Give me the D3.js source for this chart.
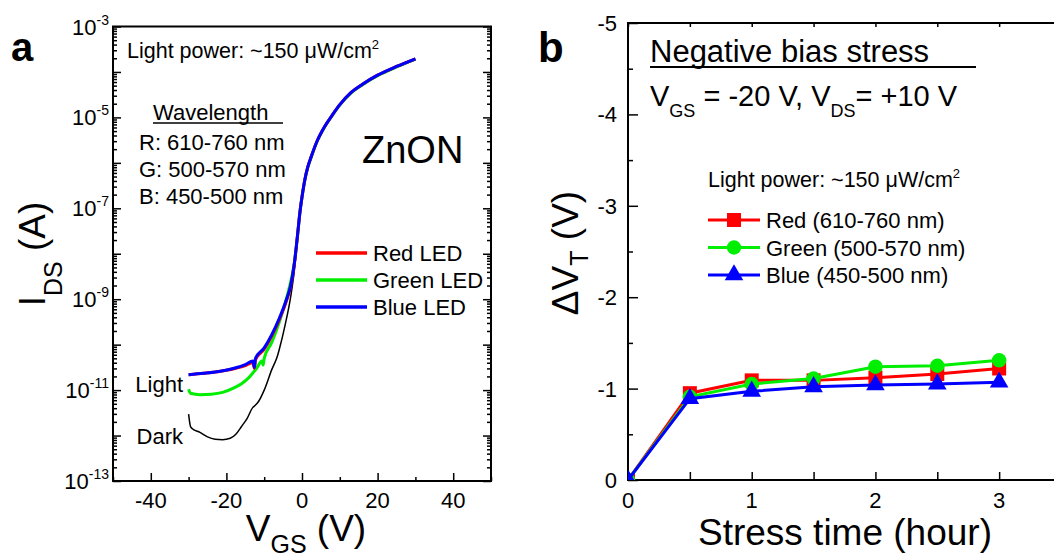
<!DOCTYPE html>
<html>
<head>
<meta charset="utf-8">
<script src="https://cdn.jsdelivr.net/npm/d3@7/dist/d3.min.js"></script>
<style>
  body { margin: 0; background: #fff; }
  text { font-family: "Liberation Sans", Arial, sans-serif; fill: #000; }
</style>
</head>
<body>
<div id="chart"></div>
<script>
// ---------- panel a : transfer curves (V_GS in V, log10 of I_DS in A) ----------
var blueVgs = [-30, -26, -22, -18, -15, -13, -12.6, -12.3, -10, -8, -6, -4, -3, -2, -1.2, -0.5, 0, 0.8, 1.5, 2.5, 4, 6, 8, 10, 13, 16, 20, 25, 30];
var blueLogI = [-10.66, -10.63, -10.59, -10.52, -10.44, -10.36, -10.50, -10.30, -10.07, -9.78, -9.42, -8.98, -8.70, -8.20, -7.60, -7.05, -6.75, -6.35, -6.10, -5.85, -5.52, -5.20, -4.95, -4.72, -4.45, -4.27, -4.07, -3.88, -3.71];
var redVgs = blueVgs;
var redLogI = [-10.66, -10.63, -10.59, -10.53, -10.46, -10.39, -10.52, -10.33, -10.10, -9.81, -9.45, -9.01, -8.72, -8.21, -7.61, -7.05, -6.75, -6.35, -6.10, -5.85, -5.52, -5.20, -4.95, -4.72, -4.45, -4.27, -4.07, -3.88, -3.71];
var greenVgs = [-30, -29.5, -27, -24, -21, -18, -16, -14, -12, -10.6, -10.3, -10, -8, -6, -4, -3, -2, -1.2, -0.5, 0, 0.8, 1.5, 2.5, 4, 6, 8, 10, 13, 16, 20, 25, 30];
var greenLogI = [-10.98, -11.07, -11.10, -11.09, -11.05, -10.95, -10.86, -10.72, -10.52, -10.36, -10.45, -10.30, -9.95, -9.50, -8.95, -8.62, -8.18, -7.62, -7.06, -6.76, -6.36, -6.11, -5.86, -5.53, -5.21, -4.96, -4.73, -4.46, -4.28, -4.08, -3.89, -3.72];
var darkVgs = [-30, -29.5, -29, -27, -25, -23, -21, -19, -17.5, -16, -14.5, -13, -12.3, -11.5, -10, -8, -6.5, -6, -4.5, -3, -2, -1.2, -0.5, 0, 0.8, 1.5, 2.5, 4, 6, 8, 10, 13, 16, 20, 25, 30];
var darkLogI = [-11.53, -11.80, -11.85, -11.93, -12.03, -12.08, -12.09, -12.06, -11.97, -11.80, -11.62, -11.38, -11.33, -11.25, -11.00, -10.55, -10.25, -10.10, -9.58, -8.95, -8.35, -7.65, -7.07, -6.77, -6.37, -6.12, -5.87, -5.54, -5.22, -4.97, -4.74, -4.47, -4.29, -4.09, -3.90, -3.73];

var vgsTicks = [-40, -20, 0, 20, 40];
var logTickExps = [-3, -5, -7, -9, -11, -13];
var ledNames = ["Red LED", "Green LED", "Blue LED"];
var wavelengthLines = ["R: 610-760 nm", "G: 500-570 nm", "B: 450-500 nm"];

// ---------- panel b : threshold voltage shift under negative bias stress ----------
var stressTime = [0, 0.5, 1, 1.5, 2, 2.5, 3];
var redShift = [0, -0.95, -1.09, -1.09, -1.12, -1.16, -1.22];
var greenShift = [0, -0.91, -1.05, -1.11, -1.24, -1.25, -1.31];
var blueShift = [0, -0.89, -0.97, -1.02, -1.04, -1.05, -1.07];
var shiftNames = ["Red (610-760 nm)", "Green (500-570 nm)", "Blue (450-500 nm)"];
var timeTicks = [0, 1, 2, 3];
var shiftTicks = [0, -1, -2, -3, -4, -5];

var RED = "#ff0000", GREEN = "#00ee00", BLUE = "#0000ff";

var svg = d3.select("#chart").append("svg")
  .attr("width", 1054)
  .attr("height", 559);

// ================= panel a =================
var ax = d3.scaleLinear().domain([-50, 50]).range([113, 491]);
var ay = d3.scaleLog().domain([1e-13, 1e-3]).range([481, 26.5]);

var pa = svg.append("g");

// inward ticks, bottom
var minorV = d3.range(-50, 51, 10).filter(d => vgsTicks.indexOf(d) < 0);
pa.append("g").attr("transform", "translate(0,481)")
  .call(d3.axisBottom(ax).tickValues(vgsTicks).tickSize(-8).tickSizeOuter(0).tickFormat(""));
pa.append("g").attr("transform", "translate(0,481)")
  .call(d3.axisBottom(ax).tickValues(minorV).tickSize(-4).tickSizeOuter(0).tickFormat(""));

// log ticks left and right
var decades = d3.range(-13, -2).map(e => Math.pow(10, e));
var minorLog = [];
d3.range(-13, -3).forEach(function(e) {
  for (var k = 2; k <= 9; k++) minorLog.push(k * Math.pow(10, e));
});
[[113, d3.axisLeft], [491, d3.axisRight]].forEach(function(s) {
  pa.append("g").attr("transform", `translate(${s[0]},0)`)
    .call(s[1](ay).tickValues(decades).tickSize(-8).tickSizeOuter(0).tickFormat(""));
  pa.append("g").attr("transform", `translate(${s[0]},0)`)
    .call(s[1](ay).tickValues(minorLog).tickSize(-4).tickSizeOuter(0).tickFormat(""));
});
pa.selectAll(".domain").remove();
pa.selectAll(".tick line").attr("stroke", "#000").attr("stroke-width", 1.5);

pa.append("rect")
  .attr("x", 113).attr("y", 26.5)
  .attr("width", 378).attr("height", 454.5)
  .attr("fill", "none").attr("stroke", "#000").attr("stroke-width", 2);

// tick labels
pa.selectAll(".xlab").data(vgsTicks).enter().append("text")
  .attr("x", d => ax(d)).attr("y", 508)
  .attr("text-anchor", "middle").attr("font-size", 22)
  .text(d => d);

var ylab = pa.selectAll(".ylab").data(logTickExps).enter().append("text")
  .attr("x", 109).attr("y", d => ay(Math.pow(10, d)) + 8)
  .attr("text-anchor", "end").attr("font-size", 22);
ylab.append("tspan").text("10");
ylab.append("tspan").attr("font-size", 14).attr("dy", -10).text(d => d);

// axis titles
var xt = pa.append("text").attr("x", 306).attr("y", 541)
  .attr("text-anchor", "middle").attr("font-size", 37);
xt.append("tspan").text("V");
xt.append("tspan").attr("font-size", 25).attr("dy", 12).text("GS");
xt.append("tspan").attr("dy", -12).text(" (V)");

var yt = pa.append("text").attr("transform", "translate(45,254) rotate(-90)")
  .attr("text-anchor", "middle").attr("font-size", 37);
yt.append("tspan").text("I");
yt.append("tspan").attr("font-size", 25).attr("dy", 17).text("DS");
yt.append("tspan").attr("dy", -17).text(" (A)");

pa.append("text").attr("x", 11).attr("y", 61)
  .attr("font-size", 40).attr("font-weight", "bold").text("a");

// curves
var aLine = d3.line()
  .x(d => ax(d[0]))
  .y(d => ay(Math.pow(10, d[1])))
  .curve(d3.curveMonotoneX);

pa.append("path").datum(d3.zip(darkVgs, darkLogI))
  .attr("d", aLine).attr("fill", "none").attr("stroke", "#000").attr("stroke-width", 1.5);
pa.append("path").datum(d3.zip(greenVgs, greenLogI))
  .attr("d", aLine).attr("fill", "none").attr("stroke", GREEN).attr("stroke-width", 3);
pa.append("path").datum(d3.zip(redVgs, redLogI))
  .attr("d", aLine).attr("fill", "none").attr("stroke", RED).attr("stroke-width", 3);
pa.append("path").datum(d3.zip(blueVgs, blueLogI))
  .attr("d", aLine).attr("fill", "none").attr("stroke", BLUE).attr("stroke-width", 3);

// annotations
var lp = pa.append("text").attr("x", 127).attr("y", 58).attr("font-size", 21.5);
lp.append("tspan").text("Light power: ~150 \u03bcW/cm");
lp.append("tspan").attr("font-size", 13).attr("dy", -9).text("2");

pa.append("text").attr("x", 153).attr("y", 120).attr("font-size", 22).text("Wavelength");
pa.append("line").attr("x1", 153).attr("x2", 283).attr("y1", 123).attr("y2", 123)
  .attr("stroke", "#000").attr("stroke-width", 1.5);
pa.selectAll(".wl").data(wavelengthLines).enter().append("text")
  .attr("x", 139).attr("y", (d, i) => 150 + i * 27)
  .attr("font-size", 22).text(d => d);

pa.append("text").attr("x", 362).attr("y", 163).attr("font-size", 38).text("ZnON");

var ledColors = [RED, GREEN, BLUE];
ledNames.forEach(function(name, i) {
  var y = 253 + i * 27;
  pa.append("line").attr("x1", 316).attr("x2", 367).attr("y1", y).attr("y2", y)
    .attr("stroke", ledColors[i]).attr("stroke-width", 3.5);
  pa.append("text").attr("x", 373).attr("y", y + 8).attr("font-size", 22).text(name);
});

pa.append("text").attr("x", 183).attr("y", 392).attr("text-anchor", "end")
  .attr("font-size", 22).text("Light");
pa.append("text").attr("x", 183).attr("y", 444).attr("text-anchor", "end")
  .attr("font-size", 22).text("Dark");

// ================= panel b =================
var bx = d3.scaleLinear().domain([0, 3.5]).range([628, 1061]);
var by = d3.scaleLinear().domain([0, -5]).range([480, 23]);

var pb = svg.append("g");

var halfHours = d3.range(0, 3.51, 0.5);
pb.append("g").attr("transform", "translate(0,480)")
  .call(d3.axisBottom(bx).tickValues(halfHours).tickSize(-8).tickSizeOuter(0).tickFormat(""));
pb.append("g").attr("transform", "translate(0,23)")
  .call(d3.axisTop(bx).tickValues(halfHours).tickSize(-4).tickSizeOuter(0).tickFormat(""));
pb.append("g").attr("transform", "translate(628,0)")
  .call(d3.axisLeft(by).tickValues(shiftTicks).tickSize(-10).tickSizeOuter(0).tickFormat(""));
pb.append("g").attr("transform", "translate(628,0)")
  .call(d3.axisLeft(by).tickValues([-0.5, -1.5, -2.5, -3.5, -4.5]).tickSize(-5).tickSizeOuter(0).tickFormat(""));
pb.selectAll(".domain").remove();
pb.selectAll(".tick line").attr("stroke", "#000").attr("stroke-width", 1.5);

pb.append("rect")
  .attr("x", 628).attr("y", 23)
  .attr("width", 433).attr("height", 457)
  .attr("fill", "none").attr("stroke", "#000").attr("stroke-width", 2);

pb.selectAll(".xlab").data(timeTicks).enter().append("text")
  .attr("x", d => bx(d)).attr("y", 508)
  .attr("text-anchor", "middle").attr("font-size", 22).text(d => d);
pb.selectAll(".ylab").data(shiftTicks).enter().append("text")
  .attr("x", 617).attr("y", d => by(d) + 8)
  .attr("text-anchor", "end").attr("font-size", 22).text(d => d);

pb.append("text").attr("x", 845).attr("y", 545)
  .attr("text-anchor", "middle").attr("font-size", 37).text("Stress time (hour)");

var yt2 = pb.append("text").attr("transform", "translate(578,253) rotate(-90)")
  .attr("text-anchor", "middle").attr("font-size", 37);
yt2.append("tspan").text("\u0394V");
yt2.append("tspan").attr("font-size", 25).attr("dy", 10).text("T");
yt2.append("tspan").attr("dy", -10).text(" (V)");

pb.append("text").attr("x", 538).attr("y", 62)
  .attr("font-size", 42).attr("font-weight", "bold").text("b");

pb.append("text").attr("x", 650).attr("y", 62).attr("font-size", 31).text("Negative bias stress");
pb.append("line").attr("x1", 650).attr("x2", 976).attr("y1", 67).attr("y2", 67)
  .attr("stroke", "#000").attr("stroke-width", 2);

var cond = pb.append("text").attr("x", 650).attr("y", 106).attr("font-size", 29);
cond.append("tspan").text("V");
cond.append("tspan").attr("font-size", 18).attr("dy", 11).text("GS");
cond.append("tspan").attr("dy", -11).text(" = -20 V, V");
cond.append("tspan").attr("font-size", 18).attr("dy", 11).text("DS");
cond.append("tspan").attr("dy", -11).text("= +10 V");

var lp2 = pb.append("text").attr("x", 708).attr("y", 187).attr("font-size", 21.5);
lp2.append("tspan").text("Light power: ~150 \u03bcW/cm");
lp2.append("tspan").attr("font-size", 13).attr("dy", -9).text("2");

// data series
svg.append("clipPath").attr("id", "clipb")
  .append("rect").attr("x", 628).attr("y", 23).attr("width", 433).attr("height", 457);

var series = [
  { name: shiftNames[0], vals: redShift, color: RED, shape: d3.symbolSquare, size: 196 },
  { name: shiftNames[1], vals: greenShift, color: GREEN, shape: d3.symbolCircle, size: 165 },
  { name: shiftNames[2], vals: blueShift, color: BLUE, shape: d3.symbolTriangle, size: 150 }
];

var bLine = d3.line().x(d => bx(d[0])).y(d => by(d[1]));
var dataG = pb.append("g").attr("clip-path", "url(#clipb)");

series.forEach(function(s) {
  var pts = d3.zip(stressTime, s.vals);
  dataG.append("path").datum(pts)
    .attr("d", bLine).attr("fill", "none").attr("stroke", s.color).attr("stroke-width", 3);
  dataG.selectAll(null).data(pts).enter().append("path")
    .attr("d", d3.symbol().type(s.shape).size(s.size))
    .attr("transform", d => `translate(${bx(d[0])},${by(d[1])})`)
    .attr("fill", s.color);
});

// legend
series.forEach(function(s, i) {
  var y = 220 + i * 27.5;
  pb.append("line").attr("x1", 708).attr("x2", 760).attr("y1", y).attr("y2", y)
    .attr("stroke", s.color).attr("stroke-width", 3);
  pb.append("path").attr("d", d3.symbol().type(s.shape).size(s.size))
    .attr("transform", `translate(734,${y})`).attr("fill", s.color);
  pb.append("text").attr("x", 766).attr("y", y + 8).attr("font-size", 22).text(s.name);
});
</script>
</body>
</html>
